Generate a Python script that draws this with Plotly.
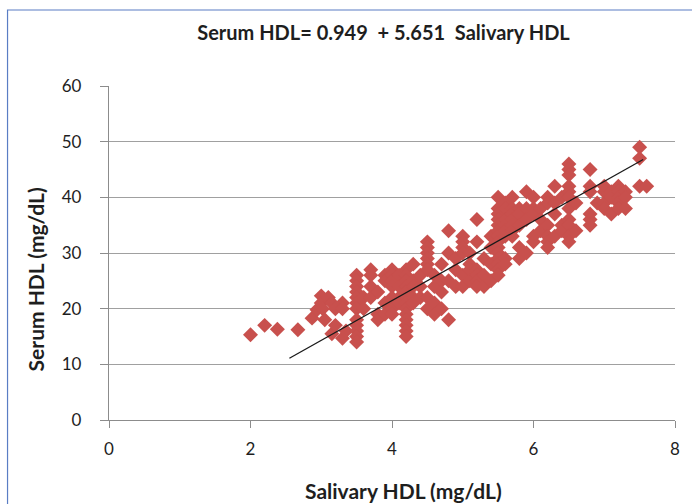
import plotly.graph_objects as go

# Salivary HDL (x) and Serum HDL (y) values
salivary = [
    2.0, 2.2, 2.38, 2.67, 2.87, 2.94,
    3.0, 3.0, 3.02, 3.05,
    3.1, 3.15, 3.15, 3.2, 3.2,
    3.3, 3.3, 3.3, 3.35,
    3.5, 3.5, 3.5, 3.5, 3.5, 3.5, 3.5, 3.5, 3.5, 3.5, 3.5, 3.5,
    3.6, 3.6,
    3.7, 3.7, 3.7, 3.7,
    3.8, 3.8, 3.8,
    3.9, 3.9, 3.9, 3.9,
    4.0, 4.0, 4.0, 4.0, 4.0, 4.0, 4.0,
    4.1, 4.1, 4.1, 4.1,
    4.2, 4.2, 4.2, 4.2, 4.2, 4.2, 4.2, 4.2, 4.2, 4.2, 4.2, 4.2, 4.2,
    4.3, 4.3, 4.3, 4.3, 4.3,
    4.4, 4.4, 4.4,
    4.5, 4.5, 4.5, 4.5, 4.5, 4.5, 4.5, 4.5,
    4.6, 4.6, 4.6, 4.6,
    4.7, 4.7, 4.7, 4.7,
    4.8, 4.8, 4.8, 4.8,
    4.9, 4.9, 4.9,
    5.0, 5.0, 5.0, 5.0, 5.0, 5.0,
    5.1, 5.1, 5.1, 5.1,
    5.2, 5.2, 5.2, 5.2, 5.2, 5.2,
    5.3, 5.3, 5.3,
    5.4, 5.4, 5.4, 5.4,
    5.5, 5.5, 5.5, 5.5, 5.5, 5.5, 5.5, 5.5, 5.5, 5.5, 5.5, 5.5, 5.5, 5.5,
    5.6, 5.6, 5.6, 5.6, 5.6, 5.6, 5.6, 5.6,
    5.7, 5.7, 5.7, 5.7, 5.7, 5.7, 5.7,
    5.8, 5.8, 5.8, 5.8, 5.8,
    5.9, 5.9, 5.9, 5.9,
    6.0, 6.0, 6.0, 6.0, 6.0,
    6.1, 6.1, 6.1,
    6.2, 6.2, 6.2, 6.2, 6.2, 6.2,
    6.3, 6.3, 6.3, 6.3,
    6.4, 6.4, 6.4,
    6.5, 6.5, 6.5, 6.5, 6.5, 6.5, 6.5, 6.5, 6.5, 6.5, 6.5,
    6.6, 6.6,
    6.8, 6.8, 6.8, 6.8, 6.8, 6.8,
    6.9,
    7.0, 7.0, 7.0, 7.0,
    7.1, 7.1, 7.1,
    7.2, 7.2, 7.2, 7.2, 7.2,
    7.3, 7.3, 7.3,
    7.5, 7.5, 7.5,
    7.6,
]
serum = [
    15.3, 17.0, 16.3, 16.2, 18.3, 19.8,
    22.3, 21.0, 20.0, 18.0,
    22.0, 21.0, 15.5, 20.0, 17.0,
    21.0, 20.0, 14.7, 16.0,
    26.0, 25.0, 24.0, 23.0, 22.0, 21.0, 20.0, 18.0, 17.0, 16.0, 15.0, 14.0,
    22.0, 20.0,
    27.0, 26.0, 24.0, 22.0,
    23.0, 19.0, 18.0,
    26.0, 25.0, 21.0, 19.0,
    27.0, 26.0, 25.0, 24.0, 22.0, 20.0, 19.0,
    26.0, 24.0, 22.0, 21.0,
    27.0, 26.0, 25.0, 24.0, 23.0, 22.0, 21.0, 20.0, 19.0, 18.0, 17.0, 16.0, 15.0,
    28.0, 25.0, 24.0, 22.0, 21.0,
    26.0, 24.0, 22.0,
    32.0, 31.0, 30.0, 29.0, 28.0, 27.0, 22.0, 20.0,
    26.0, 24.0, 21.0, 19.0,
    28.0, 25.0, 23.0, 20.0,
    34.0, 30.0, 25.0, 18.0,
    29.0, 27.0, 24.0,
    33.0, 32.0, 31.0, 30.0, 26.0, 24.0,
    30.0, 28.0, 27.0, 25.0,
    36.0, 32.0, 27.0, 26.0, 25.0, 24.0,
    29.0, 26.0, 24.0,
    33.0, 31.0, 28.0, 25.0,
    40.0, 38.0, 37.0, 36.0, 35.0, 34.0, 33.0, 32.0, 31.0, 30.0, 29.0, 28.0, 27.0, 26.0,
    39.0, 38.0, 36.0, 35.0, 34.0, 33.0, 29.0, 28.0,
    40.0, 38.0, 37.0, 36.0, 35.0, 34.0, 33.0,
    38.0, 37.0, 35.0, 31.0, 29.0,
    41.0, 38.0, 36.0, 30.0,
    40.0, 38.0, 37.0, 33.0, 32.0,
    38.0, 36.0, 34.0,
    40.0, 39.0, 35.0, 33.0, 32.0, 31.0,
    42.0, 39.0, 37.0, 33.0,
    40.0, 35.0, 34.0,
    46.0, 45.0, 44.0, 42.0, 41.0, 40.0, 38.0, 36.0, 35.0, 33.0, 32.0,
    39.0, 34.0,
    45.0, 42.0, 41.0, 37.0, 36.0, 35.0,
    39.0,
    42.0, 41.0, 39.0, 38.0,
    41.0, 40.0, 37.0,
    42.0, 41.0, 40.0, 39.0, 38.0,
    41.0, 40.0, 38.0,
    49.0, 47.0, 42.0,
    42.0,
]

# Trend line end points
trend_x = [2.55, 7.55]
trend_y = [11.1, 46.8]

x_ticks = [0, 2, 4, 6, 8]
y_ticks = [0, 10, 20, 30, 40, 50, 60]

title_text = "Serum HDL= 0.949 &nbsp;+ 5.651 &nbsp;Salivary HDL"
x_title = "Salivary HDL (mg/dL)"
y_title = "Serum HDL (mg/dL)"

FONT = "Lato, 'Noto Sans', sans-serif"
RED = "#C8504D"
TXT = "#1e1e1e"

fig = go.Figure()
fig.add_trace(go.Scatter(
    x=salivary, y=serum, mode="markers",
    marker=dict(symbol="diamond", size=11.5, color=RED, line=dict(width=0)),
    showlegend=False, hoverinfo="x+y",
))
fig.add_trace(go.Scatter(
    x=trend_x, y=trend_y, mode="lines",
    line=dict(color="#1a1a1a", width=1.3),
    showlegend=False, hoverinfo="skip",
))

fig.update_layout(
    width=692, height=504,
    margin=dict(l=109, r=14, t=86, b=84),
    paper_bgcolor="white", plot_bgcolor="white",
    font=dict(family=FONT, color=TXT, size=16),
    title=dict(text="<b>" + title_text + "</b>", x=0.485, xref="paper",
               xanchor="center", y=1 - 33 / 504, yanchor="middle",
               font=dict(family=FONT, size=20, color=TXT)),
    xaxis=dict(
        range=[0, 8], tickvals=x_ticks, ticktext=[str(v) for v in x_ticks],
        showgrid=False, zeroline=False,
        showline=True, linecolor="#8c8c8c", linewidth=1.3,
        ticks="outside", ticklen=7, tickcolor="#8c8c8c", tickwidth=1.3,
        ticklabelstandoff=6,
        tickfont=dict(family=FONT, size=17, color=TXT),
        fixedrange=True,
    ),
    yaxis=dict(
        range=[0, 60], tickvals=y_ticks, ticktext=[str(v) for v in y_ticks],
        showgrid=True, gridcolor="#a0a0a0", gridwidth=1.3, zeroline=False,
        showline=True, linecolor="#8c8c8c", linewidth=1.3,
        ticks="outside", ticklen=8, tickcolor="#8c8c8c", tickwidth=1.3,
        ticklabelstandoff=15,
        tickfont=dict(family=FONT, size=17, color=TXT),
        fixedrange=True,
    ),
    annotations=[
        dict(text="<b>" + x_title + "</b>", xref="paper", yref="paper",
             x=(405 - 109) / 569, y=(420 - 490) / 334,
             xanchor="center", yanchor="middle", showarrow=False,
             font=dict(family=FONT, size=21, color=TXT)),
        dict(text="<b>" + y_title + "</b>", xref="paper", yref="paper",
             x=(35 - 109) / 569, y=(420 - 279) / 334, textangle=-90,
             xanchor="center", yanchor="middle", showarrow=False,
             font=dict(family=FONT, size=21, color=TXT)),
    ],
    shapes=[dict(
        type="rect", xref="paper", yref="paper",
        x0=(7 - 109) / 569, x1=1.2, y0=-0.4, y1=(420 - 10) / 334,
        line=dict(color="#5A7DC4", width=1.2), fillcolor="rgba(0,0,0,0)",
        layer="above",
    )],
)

fig.write_html("out.html", config={"displayModeBar": False},
               post_script="document.body.style.margin='0';")
